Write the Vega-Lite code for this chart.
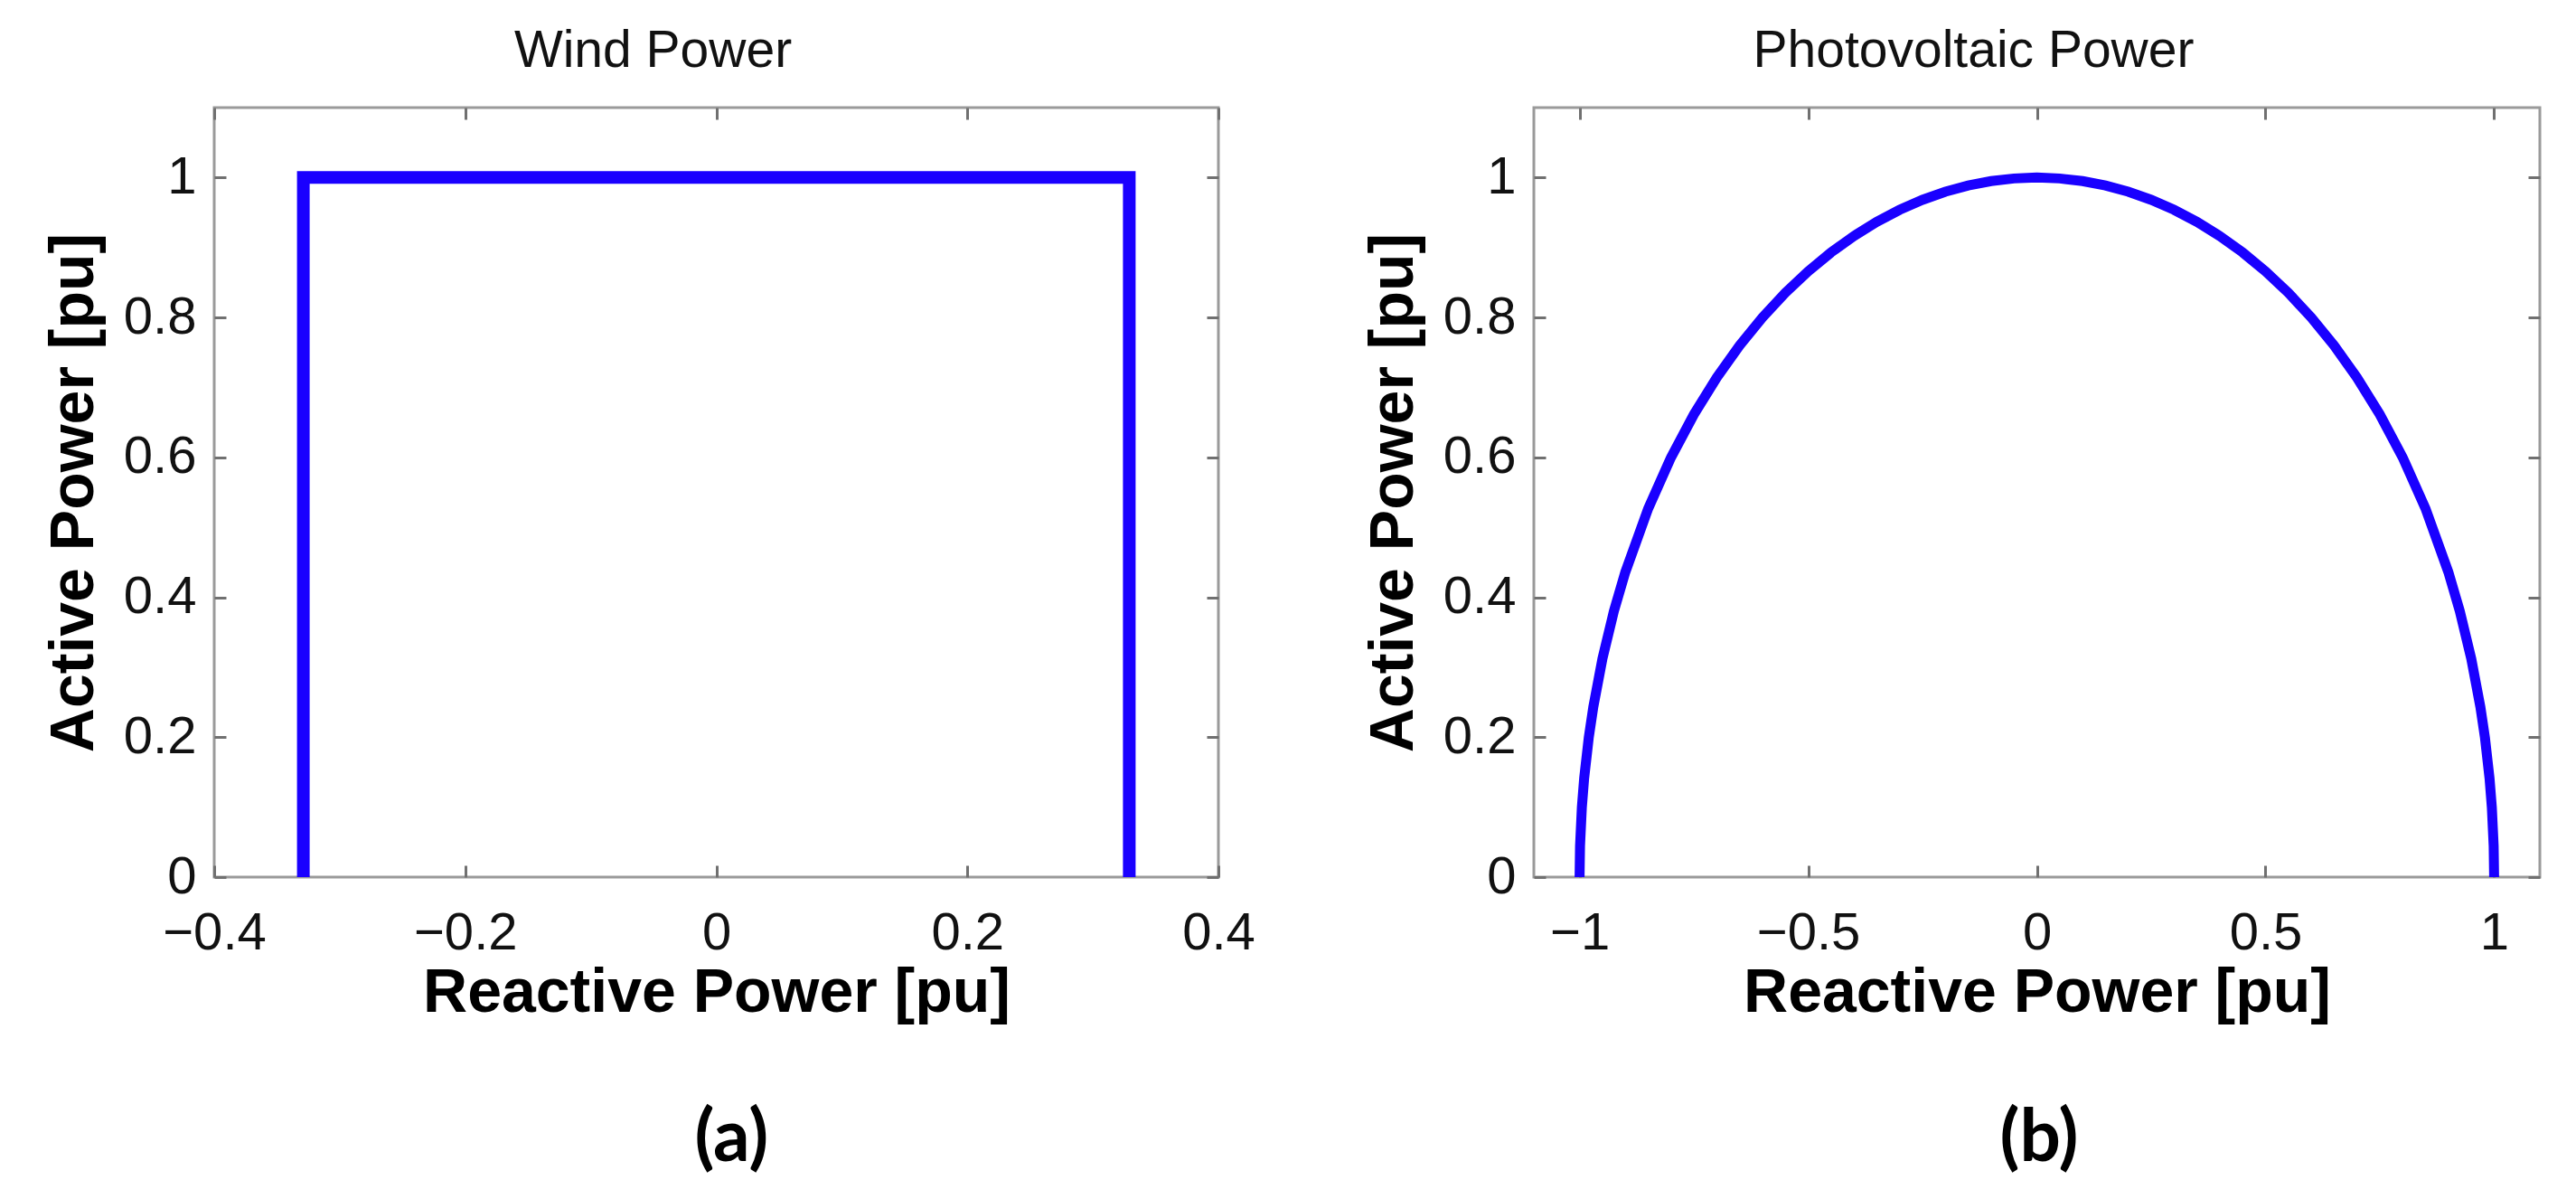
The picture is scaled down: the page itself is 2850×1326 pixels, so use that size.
{
  "$schema": "https://vega.github.io/schema/vega-lite/v6.json",
  "background": "white",
  "padding": {"left": 46, "top": 26, "right": 20, "bottom": 10},
  "config": {
    "view": {"stroke": "#9a9a9a", "strokeWidth": 3},
    "font": "Liberation Sans",
    "axis": {
      "domain": false,
      "grid": false,
      "tickSize": -13,
      "tickWidth": 3,
      "tickColor": "#707070",
      "labelFont": "Liberation Sans",
      "labelFontSize": 58,
      "labelColor": "#111111",
      "labelPadding": 33,
      "labelFlush": false,
      "labelOverlap": false,
      "titleFont": "Liberation Sans",
      "titleFontSize": 68,
      "titleFontWeight": "bold",
      "titleColor": "#000000"
    },
    "concat": {"spacing": 116}
  },
  "datasets": {
    "wind": [
      {"i": 1, "q": -0.329, "p": 0},
      {"i": 2, "q": -0.329, "p": 1},
      {"i": 3, "q": 0.329, "p": 1},
      {"i": 4, "q": 0.329, "p": 0}
    ],
    "pv": [
      {"q": -1, "p": 0},
      {"q": -0.999, "p": 0.0447},
      {"q": -0.995, "p": 0.0999},
      {"q": -0.99, "p": 0.1411},
      {"q": -0.98, "p": 0.199},
      {"q": -0.97, "p": 0.2431},
      {"q": -0.95, "p": 0.3122},
      {"q": -0.925, "p": 0.38},
      {"q": -0.9, "p": 0.4359},
      {"q": -0.85, "p": 0.5268},
      {"q": -0.8, "p": 0.6},
      {"q": -0.75, "p": 0.6614},
      {"q": -0.7, "p": 0.7141},
      {"q": -0.65, "p": 0.7599},
      {"q": -0.6, "p": 0.8},
      {"q": -0.55, "p": 0.8352},
      {"q": -0.5, "p": 0.866},
      {"q": -0.45, "p": 0.893},
      {"q": -0.4, "p": 0.9165},
      {"q": -0.35, "p": 0.9367},
      {"q": -0.3, "p": 0.9539},
      {"q": -0.25, "p": 0.9682},
      {"q": -0.2, "p": 0.9798},
      {"q": -0.15, "p": 0.9887},
      {"q": -0.1, "p": 0.995},
      {"q": -0.05, "p": 0.9987},
      {"q": 0, "p": 1},
      {"q": 0.05, "p": 0.9987},
      {"q": 0.1, "p": 0.995},
      {"q": 0.15, "p": 0.9887},
      {"q": 0.2, "p": 0.9798},
      {"q": 0.25, "p": 0.9682},
      {"q": 0.3, "p": 0.9539},
      {"q": 0.35, "p": 0.9367},
      {"q": 0.4, "p": 0.9165},
      {"q": 0.45, "p": 0.893},
      {"q": 0.5, "p": 0.866},
      {"q": 0.55, "p": 0.8352},
      {"q": 0.6, "p": 0.8},
      {"q": 0.65, "p": 0.7599},
      {"q": 0.7, "p": 0.7141},
      {"q": 0.75, "p": 0.6614},
      {"q": 0.8, "p": 0.6},
      {"q": 0.85, "p": 0.5268},
      {"q": 0.9, "p": 0.4359},
      {"q": 0.925, "p": 0.38},
      {"q": 0.95, "p": 0.3122},
      {"q": 0.97, "p": 0.2431},
      {"q": 0.98, "p": 0.199},
      {"q": 0.99, "p": 0.1411},
      {"q": 0.995, "p": 0.0999},
      {"q": 0.999, "p": 0.0447},
      {"q": 1, "p": 0}
    ]
  },
  "hconcat": [
    {
      "title": {"text": "(a)", "orient": "bottom", "anchor": "middle", "dx": 91, "font": "Lato", "fontSize": 80, "fontWeight": "bold", "color": "#000000", "offset": 87},
      "vconcat": [
        {
          "title": {"text": "Wind Power", "anchor": "middle", "frame": "group", "font": "Liberation Sans", "fontSize": 57, "fontWeight": "normal", "color": "#111111", "offset": 32, "dx": -70},
          "width": 1111,
          "height": 851,
          "data": {"name": "wind"},
          "layer": [
            {
              "mark": {"type": "line", "color": "#1a00ff", "strokeWidth": 14},
              "encoding": {
                "x": {"field": "q", "type": "quantitative", "scale": {"domain": [-0.4, 0.4], "nice": false, "zero": false},
                      "axis": {"orient": "bottom", "values": [-0.4, -0.2, 0, 0.2, 0.4], "format": "~g", "labelPadding": 46, "title": "Reactive Power [pu]", "titlePadding": 3}},
                "y": {"field": "p", "type": "quantitative", "scale": {"domain": [0, 1.1], "nice": false},
                      "axis": {"orient": "left", "values": [0, 0.2, 0.4, 0.6, 0.8, 1], "format": "~g", "title": "Active Power [pu]", "titlePadding": 20}},
                "order": {"field": "i"}
              }
            },
            {
              "mark": {"type": "line", "strokeOpacity": 0},
              "encoding": {
                "x": {"field": "q", "type": "quantitative", "scale": {"domain": [-0.4, 0.4], "nice": false, "zero": false},
                      "axis": {"orient": "top", "values": [-0.4, -0.2, 0, 0.2, 0.4], "labels": false, "title": null}},
                "y": {"field": "p", "type": "quantitative", "scale": {"domain": [0, 1.1], "nice": false},
                      "axis": {"orient": "right", "values": [0, 0.2, 0.4, 0.6, 0.8, 1], "labels": false, "title": null}},
                "order": {"field": "i"}
              }
            }
          ],
          "resolve": {"axis": {"x": "independent", "y": "independent"}}
        }
      ]
    },
    {
      "title": {"text": "(b)", "orient": "bottom", "anchor": "middle", "dx": 96, "font": "Lato", "fontSize": 80, "fontWeight": "bold", "color": "#000000", "offset": 87},
      "vconcat": [
        {
          "title": {"text": "Photovoltaic Power", "anchor": "middle", "frame": "group", "font": "Liberation Sans", "fontSize": 57, "fontWeight": "normal", "color": "#111111", "offset": 32, "dx": -70},
          "width": 1113,
          "height": 851,
          "data": {"name": "pv"},
          "layer": [
            {
              "mark": {"type": "line", "color": "#1a00ff", "strokeWidth": 11},
              "encoding": {
                "x": {"field": "q", "type": "quantitative", "scale": {"domain": [-1.1, 1.1], "nice": false, "zero": false},
                      "axis": {"orient": "bottom", "values": [-1, -0.5, 0, 0.5, 1], "format": "~g", "labelPadding": 46, "title": "Reactive Power [pu]", "titlePadding": 3}},
                "y": {"field": "p", "type": "quantitative", "scale": {"domain": [0, 1.1], "nice": false},
                      "axis": {"orient": "left", "values": [0, 0.2, 0.4, 0.6, 0.8, 1], "format": "~g", "title": "Active Power [pu]", "titlePadding": 20}}
              }
            },
            {
              "mark": {"type": "line", "strokeOpacity": 0},
              "encoding": {
                "x": {"field": "q", "type": "quantitative", "scale": {"domain": [-1.1, 1.1], "nice": false, "zero": false},
                      "axis": {"orient": "top", "values": [-1, -0.5, 0, 0.5, 1], "labels": false, "title": null}},
                "y": {"field": "p", "type": "quantitative", "scale": {"domain": [0, 1.1], "nice": false},
                      "axis": {"orient": "right", "values": [0, 0.2, 0.4, 0.6, 0.8, 1], "labels": false, "title": null}}
              }
            }
          ],
          "resolve": {"axis": {"x": "independent", "y": "independent"}}
        }
      ]
    }
  ]
}
